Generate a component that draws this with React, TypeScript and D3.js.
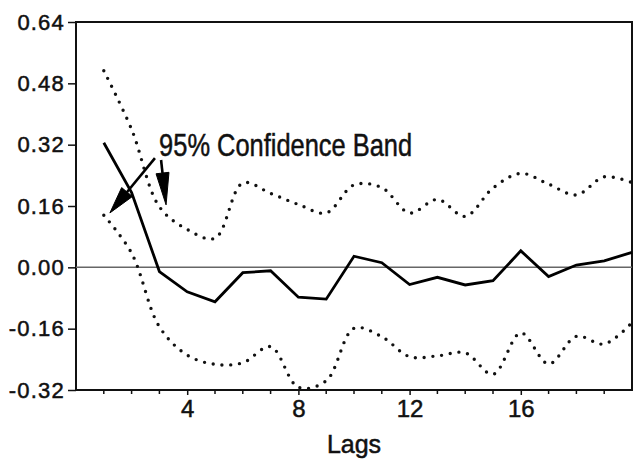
import React, { useEffect, useRef } from 'react';
import * as d3 from 'd3';

// autocorrelations by lag
const lags = [1, 2, 3, 4, 5, 6, 7, 8, 9, 10, 11, 12, 13, 14, 15, 16, 17, 18, 19, 20];
const acf = [0.325, 0.195, -0.011, -0.064, -0.09, -0.014, -0.009, -0.078, -0.083, 0.029,
  0.012, -0.045, -0.026, -0.046, -0.035, 0.043, -0.024, 0.006, 0.017, 0.039];
const upperBand = [0.513, 0.36, 0.158, 0.099, 0.076, 0.22, 0.193, 0.164, 0.142, 0.215,
  0.208, 0.142, 0.177, 0.133, 0.207, 0.245, 0.217, 0.189, 0.236, 0.221];
const lowerBand = [0.136, 0.037, -0.155, -0.229, -0.253, -0.249, -0.207, -0.313, -0.296, -0.159,
  -0.181, -0.233, -0.231, -0.223, -0.279, -0.171, -0.252, -0.18, -0.2, -0.144];

const yTicks = [-0.32, -0.16, 0, 0.16, 0.32, 0.48, 0.64];
const xTicks = [4, 8, 12, 16];
const xMinorTicks = [1, 2, 3, 5, 6, 7, 9, 10, 11, 13, 14, 15, 17, 18, 19];

const WIDTH = 633;
const HEIGHT = 464;

const App = () => {
  const svgRef = useRef(null);

  useEffect(() => {
    const svg = d3.select(svgRef.current);
    svg.selectAll('*').remove();

    const margin = { top: 22, right: 1, bottom: 74, left: 76 };
    const x = d3.scaleLinear().domain([0, 20]).range([margin.left, WIDTH - margin.right]);
    const y = d3.scaleLinear().domain([-0.32, 0.64]).range([HEIGHT - margin.bottom, margin.top]);

    const font = 'Liberation Sans, Arial, Helvetica, sans-serif';

    // frame
    svg.append('rect')
      .attr('x', x(0))
      .attr('y', y(0.64))
      .attr('width', x(20) - x(0))
      .attr('height', y(-0.32) - y(0.64))
      .attr('fill', 'none')
      .attr('stroke', '#111')
      .attr('stroke-width', 2);

    // zero line
    svg.append('line')
      .attr('x1', x(0))
      .attr('x2', x(20))
      .attr('y1', y(0))
      .attr('y2', y(0))
      .attr('stroke', '#666')
      .attr('stroke-width', 1.5);

    // y axis
    const yAxis = d3.axisLeft(y)
      .tickValues(yTicks)
      .tickSize(8)
      .tickPadding(3)
      .tickFormat((d) => d3.format('.2f')(d).replace('\u2212', '-'));

    const gy = svg.append('g')
      .attr('transform', `translate(${x(0)},0)`)
      .call(yAxis);
    gy.select('.domain').remove();
    gy.selectAll('line').attr('stroke', '#111').attr('stroke-width', 1.5);
    gy.selectAll('text')
      .attr('font-family', font)
      .attr('font-size', 22)
      .attr('letter-spacing', 1.2)
      .attr('fill', '#111')
      .attr('stroke', '#111')
      .attr('stroke-width', 0.5);

    // x axis
    const xAxis = d3.axisBottom(x)
      .tickValues(xTicks)
      .tickSize(5)
      .tickPadding(5);

    const gx = svg.append('g')
      .attr('transform', `translate(0,${y(-0.32)})`)
      .call(xAxis);
    gx.select('.domain').remove();
    gx.selectAll('line').attr('stroke', '#111').attr('stroke-width', 1.5);
    gx.selectAll('text')
      .attr('font-family', font)
      .attr('font-size', 24)
      .attr('fill', '#111')
      .attr('stroke', '#111')
      .attr('stroke-width', 0.5);

    svg.append('g')
      .selectAll('line')
      .data(xMinorTicks)
      .enter()
      .append('line')
      .attr('x1', (d) => x(d))
      .attr('x2', (d) => x(d))
      .attr('y1', y(-0.32))
      .attr('y2', y(-0.32) + 4)
      .attr('stroke', '#111')
      .attr('stroke-width', 1.5);

    svg.append('text')
      .attr('x', (x(0) + x(20)) / 2)
      .attr('y', 453)
      .attr('text-anchor', 'middle')
      .attr('font-family', font)
      .attr('font-size', 25)
      .attr('fill', '#111')
      .attr('stroke', '#111')
      .attr('stroke-width', 0.5)
      .text('Lags');

    // confidence bands
    const bandLine = d3.line()
      .x((d) => x(d[0]))
      .y((d) => y(d[1]))
      .curve(d3.curveCatmullRom.alpha(0.5));

    [upperBand, lowerBand].forEach((band) => {
      svg.append('path')
        .datum(lags.map((l, i) => [l, band[i]]))
        .attr('d', bandLine)
        .attr('fill', 'none')
        .attr('stroke', '#111')
        .attr('stroke-width', 3.4)
        .attr('stroke-linecap', 'round')
        .attr('stroke-dasharray', '0 8.8');
    });

    // acf
    const acfLine = d3.line()
      .x((d) => x(d[0]))
      .y((d) => y(d[1]));

    svg.append('path')
      .datum(lags.map((l, i) => [l, acf[i]]))
      .attr('d', acfLine)
      .attr('fill', 'none')
      .attr('stroke', '#000')
      .attr('stroke-width', 2.8)
      .attr('stroke-linejoin', 'miter');

    // annotation
    svg.append('text')
      .attr('x', x(2.99))
      .attr('y', y(0.29))
      .attr('font-family', font)
      .attr('font-size', 32)
      .attr('textLength', 253)
      .attr('lengthAdjust', 'spacingAndGlyphs')
      .attr('fill', '#111')
      .attr('stroke', '#111')
      .attr('stroke-width', 0.5)
      .text('95% Confidence Band');

    const arrow = (from, to, headLen, headW) => {
      const x1 = x(from[0]), y1 = y(from[1]);
      const x2 = x(to[0]), y2 = y(to[1]);
      const len = Math.hypot(x2 - x1, y2 - y1);
      const ux = (x2 - x1) / len, uy = (y2 - y1) / len;
      const bx = x2 - ux * headLen, by = y2 - uy * headLen;
      svg.append('line')
        .attr('x1', x1).attr('y1', y1)
        .attr('x2', bx).attr('y2', by)
        .attr('stroke', '#000')
        .attr('stroke-width', 2.6);
      svg.append('path')
        .attr('d', `M${x2},${y2}L${bx - uy * headW / 2},${by + ux * headW / 2}L${bx + uy * headW / 2},${by - ux * headW / 2}Z`)
        .attr('fill', '#000')
        .attr('stroke', '#000')
        .attr('stroke-width', 1)
        .attr('stroke-linejoin', 'round');
    };

    arrow([2.84, 0.285], [1.22, 0.142], 27, 14);
    arrow([3.06, 0.28], [3.24, 0.163], 32, 13);
  }, []);

  return (
    <svg
      ref={svgRef}
      width={WIDTH}
      height={HEIGHT}
      style={{ position: 'absolute', left: 0, top: 0, background: '#fff' }}
    />
  );
};

export default App;
